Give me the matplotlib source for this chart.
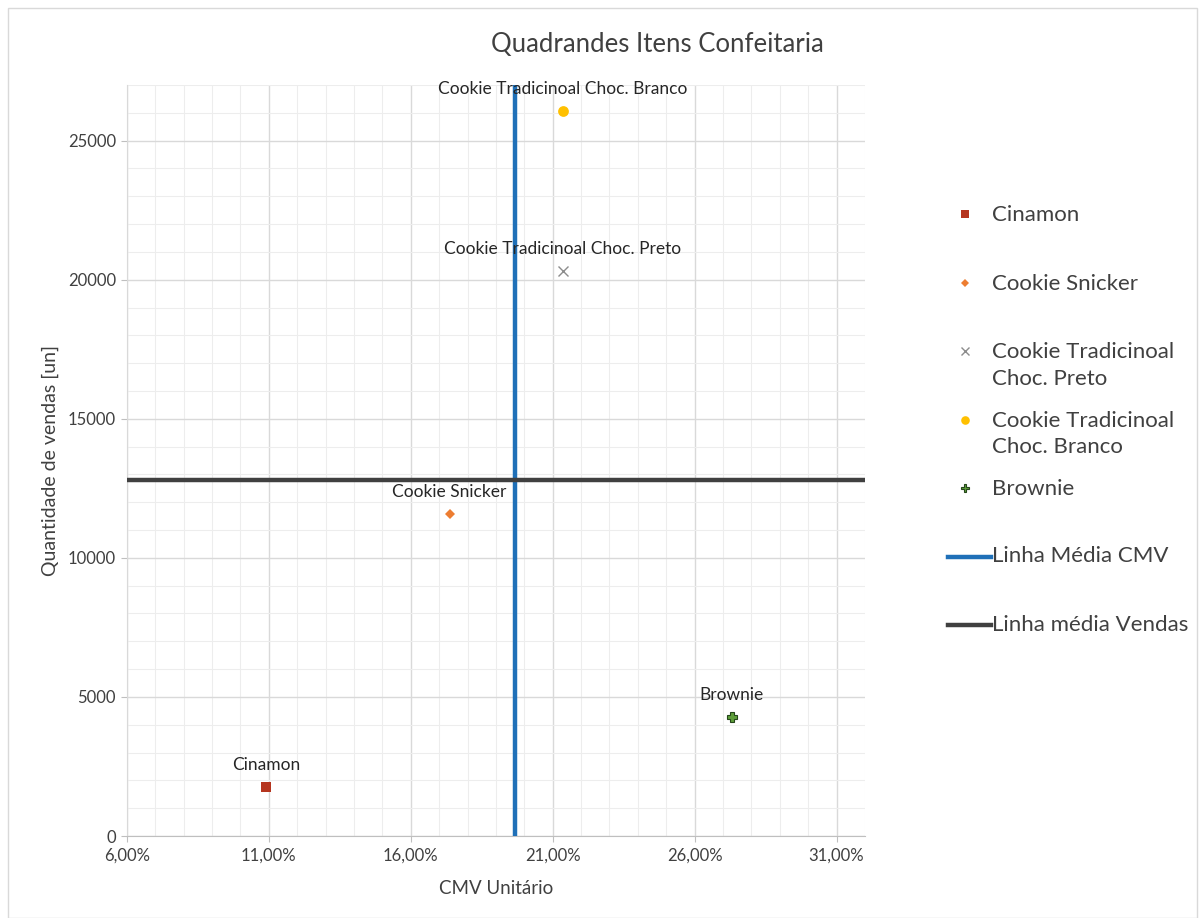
import matplotlib.pyplot as plt
from matplotlib.ticker import MultipleLocator, FixedLocator, FuncFormatter
from matplotlib.patches import Rectangle
from matplotlib.lines import Line2D

plt.rcParams['font.family'] = ['Lato', 'DejaVu Sans']

# itens da confeitaria: CMV unitario (%) x quantidade vendida
itens = ['Cinamon', 'Cookie Snicker', 'Cookie Tradicinoal Choc. Preto',
         'Cookie Tradicinoal Choc. Branco', 'Brownie']
legenda = ['Cinamon', 'Cookie Snicker', 'Cookie Tradicinoal\nChoc. Preto',
           'Cookie Tradicinoal\nChoc. Branco', 'Brownie']
cmv = [10.9, 17.37, 21.35, 21.35, 27.3]
vendas = [1760, 11570, 20330, 26080, 4270]
cores = ['#B5351F', '#ED7D31', '#8C8C8C', '#FFC000', '#5E9E3A']
marcadores = ['s', 'D', 'x', 'o', 'P']
tamanhos = [55, 30, 60, 60, 55]

media_cmv = 19.66
media_vendas = 12800
linhas = ['Linha Média CMV', 'Linha média Vendas']
cores_linhas = ['#1F70B8', '#404040']

xticks = [6, 11, 16, 21, 26, 31]

fig = plt.figure(figsize=(12.01, 9.18), dpi=100)
ax = fig.add_axes([0.1057, 0.0893, 0.6145, 0.8181])


def estilo(m, c):
    if m == 'x':
        return dict(color=c, mew=1.0)
    if m == 'P':
        return dict(mfc=c, mec='#24461a', mew=0.8)
    return dict(color=c, mew=0)


for nome, x, y, c, m, s in zip(itens, cmv, vendas, cores, marcadores, tamanhos):
    ax.plot([x], [y], ls='none', marker=m, ms=s ** 0.5, zorder=4, **estilo(m, c))
    ax.annotate(nome, (x, y), xytext=(0, 10), textcoords='offset points',
                ha='center', va='bottom', fontsize=12.5, color='#262626', zorder=5)

ax.plot([media_cmv, media_cmv], [0, 27000], color=cores_linhas[0], lw=3.2, zorder=3)
ax.plot([6, 32], [media_vendas, media_vendas], color=cores_linhas[1], lw=3.2, zorder=3)

ax.set_xlim(6, 32)
ax.set_ylim(0, 27000)
ax.xaxis.set_major_locator(FixedLocator(xticks))
ax.xaxis.set_minor_locator(MultipleLocator(1))
ax.yaxis.set_major_locator(MultipleLocator(5000))
ax.yaxis.set_minor_locator(MultipleLocator(1000))
ax.xaxis.set_major_formatter(FuncFormatter(lambda v, p: f'{v:.2f}%'.replace('.', ',')))
ax.grid(which='major', color='#D9D9D9', lw=1.0)
ax.grid(which='minor', color='#EDEDED', lw=0.8)
ax.set_axisbelow(True)
ax.tick_params(which='major', length=4.5, color='#BFBFBF', labelsize=12,
               labelcolor='#404040')
ax.tick_params(which='minor', length=0)
for lado in ['top', 'right']:
    ax.spines[lado].set_visible(False)
ax.spines['left'].set_color('#D9D9D9')
ax.spines['bottom'].set_color('#BFBFBF')

ax.set_xlabel('CMV Unitário', fontsize=13.5, color='#404040', labelpad=12)
ax.set_ylabel('Quantidade de vendas [un]', fontsize=14, color='#404040', labelpad=6)
fig.text(0.547, 0.951, 'Quadrandes Itens Confeitaria', ha='center', va='center',
         fontsize=18.5, color='#404040')

# legenda com passo fixo entre as entradas
topo, passo = 1 - 214 / 918, 68.5 / 918
x_marca, x_texto = 0.8035, 0.826
for i, (leg, c, m, s) in enumerate(zip(legenda, cores, marcadores, tamanhos)):
    y = topo - i * passo
    fig.add_artist(Line2D([x_marca], [y], transform=fig.transFigure, ls='none',
                          marker=m, ms=s ** 0.5 * 0.8, **estilo(m, c)))
    fig.text(x_texto, y + 0.0095, leg, ha='left', va='top', fontsize=16,
             color='#404040', linespacing=1.4, transform=fig.transFigure)
for j, (leg, c) in enumerate(zip(linhas, cores_linhas)):
    y = topo - (len(legenda) + j) * passo
    fig.add_artist(Line2D([0.789, 0.825], [y, y], transform=fig.transFigure,
                          color=c, lw=3.2))
    fig.text(x_texto, y, leg, ha='left', va='center', fontsize=16, color='#404040')

fig.patches.append(Rectangle((0.007, 0.0), 0.99, 0.991, transform=fig.transFigure,
                             fill=False, edgecolor='#D9D9D9', lw=1))

fig.savefig('out.png', dpi=100)
